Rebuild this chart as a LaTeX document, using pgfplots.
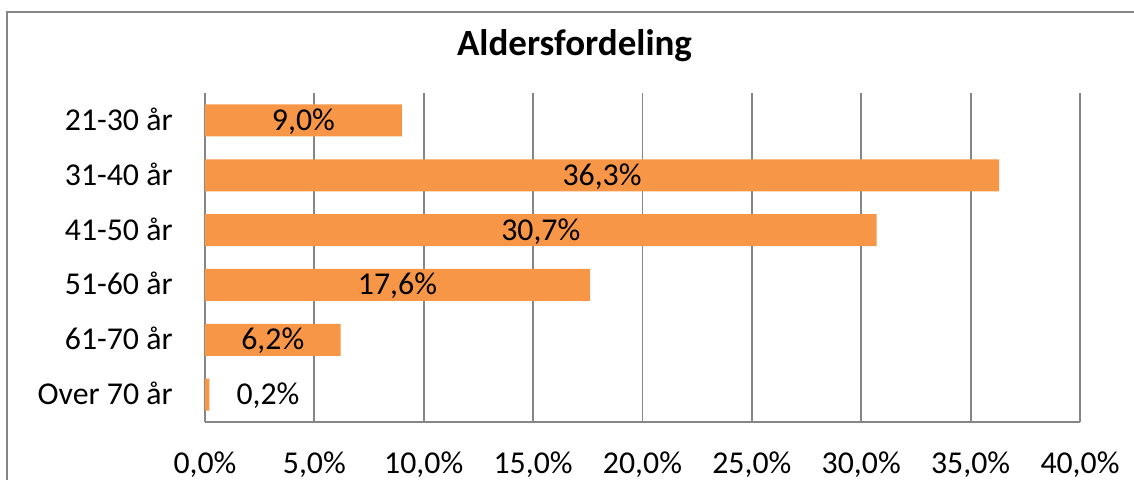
\documentclass[border=0pt]{standalone}
\usepackage{pgfplots}
\pgfplotsset{compat=1.18}
\usepackage{fontspec}
\setmainfont{Carlito}
\definecolor{barorange}{HTML}{F79646}
\definecolor{gridgray}{HTML}{868686}
\begin{document}
\begin{tikzpicture}
\path[use as bounding box] (-102.5pt,-28.5pt) rectangle (464.5pt,211pt);
\clip (-102.5pt,-28.5pt) rectangle (464.5pt,211pt);
\draw[gridgray, line width=0.9pt] (-99pt,-40pt) -- (-99pt,205pt) -- (480pt,205pt);
\begin{axis}[
  at={(0,0)}, anchor=south west,
  scale only axis,
  width=437.5pt, height=164.5pt,
  xmin=0, xmax=40, ymin=0.5, ymax=6.5,
  xtick={0,5,...,40},
  xticklabels={{0,0\%},{5,0\%},{10,0\%},{15,0\%},{20,0\%},{25,0\%},{30,0\%},{35,0\%},{40,0\%}},
  ytick={1,2,3,4,5,6},
  yticklabels={{Over 70 år},{61-70 år},{51-60 år},{41-50 år},{31-40 år},{21-30 år}},
  /pgf/number format/assume math mode=true,
  tick style={draw=none},
  major tick length=0pt,
  xmajorgrids,
  grid style={gridgray, line width=0.9pt},
  axis x line*=bottom, axis y line*=left,
  axis line style={-, gridgray, line width=0.9pt},
  ticklabel style={font=\fontsize{15.9}{19}\selectfont, inner sep=0pt},
  xticklabel style={anchor=base, yshift=-25.5pt},
  yticklabel style={anchor=base east, xshift=-16pt, yshift=-5pt},
  title={Aldersfordeling},
  title style={font=\bfseries\fontsize{18.5}{22}\selectfont, at={(0.5,1)}, anchor=base, yshift=13pt, xshift=-34pt, inner sep=0pt},
  clip=false,
]
\addplot[xbar, bar width=16pt, bar shift=0pt, fill=barorange, draw=none]
  coordinates {(9.0,6) (36.3,5) (30.7,4) (17.6,3) (6.2,2) (0.2,1)};
\addplot[draw=none, mark=none, nodes near coords, point meta=explicit symbolic,
  every node near coord/.style={anchor=base, yshift=-5pt, inner sep=0pt, font=\fontsize{15.9}{19}\selectfont, text=black}]
  coordinates {(4.5,6) [9,0\%] (18.15,5) [36,3\%] (15.35,4) [30,7\%] (8.8,3) [17,6\%] (3.1,2) [6,2\%] (2.88,1) [0,2\%]};
\end{axis}
\end{tikzpicture}
\end{document}
